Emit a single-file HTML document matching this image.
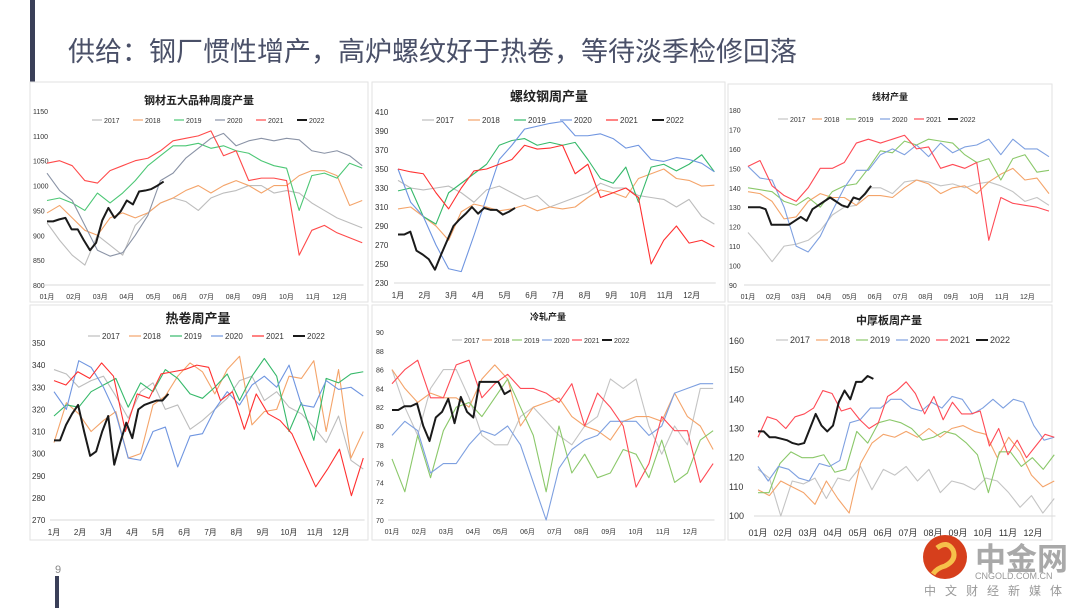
<!DOCTYPE html>
<html><head><meta charset="utf-8">
<style>
html,body{margin:0;padding:0;background:#fff;}
body{width:1080px;height:608px;position:relative;overflow:hidden;font-family:"Liberation Sans","Noto Sans CJK SC",sans-serif;}
svg text{font-family:"Liberation Sans","Noto Sans CJK SC",sans-serif;}
</style></head>
<body>
<svg id="slide" width="1080" height="608" viewBox="0 0 1080 608" xmlns="http://www.w3.org/2000/svg">
  <rect x="30" y="0" width="5" height="84" fill="#3a3f58"/>
  <text x="68" y="61" font-size="27" fill="#4a5068">供给：钢厂惯性增产，高炉螺纹好于热卷，等待淡季检修回落</text>
  <rect x="55" y="576" width="4" height="32" fill="#3a3f58"/>
  <text x="55" y="573" font-size="11" fill="#888">9</text>
  <g id="charts"></g>
  <g>
    <circle cx="945" cy="557" r="22" fill="#d63f1c"/>
    <path d="M937 548 q10 -8 16 2 q4 10 -8 16 q-8 2 -12 8" stroke="#f6c04a" stroke-width="5" fill="none"/>
    <text x="975" y="570" font-size="31" font-weight="bold" fill="#a9a9a9">中金网</text>
    <text x="975" y="579" font-size="9" fill="#999">CNGOLD.COM.CN</text>
    <text x="924" y="595" font-size="12" fill="#999" letter-spacing="9">中文财经新媒体</text>
  </g>
</svg>
<script>
// ---- data: chart 1 钢材五大品种 ----
const c1_2017=[925,890,860,840,900,880,860,920,945,965,975,968,950,975,985,990,1000,1000,985,990,985,965,950,935,925,915];
const c1_2018=[945,960,935,910,900,935,945,935,945,965,975,990,1000,985,1000,1010,1000,985,1000,1000,1020,1030,1030,1020,960,970];
const c1_2019=[970,975,965,950,985,965,985,1010,1040,1060,1080,1080,1085,1075,1080,1070,1065,1050,1040,1035,950,1020,1025,1015,1045,1035];
const c1_2020=[1025,990,970,920,870,858,865,900,940,1010,1025,1055,1075,1095,1105,1080,1090,1095,1090,1095,1092,1070,1065,1070,1060,1040];
const c1_2021=[1045,1050,1040,1010,1005,1030,1040,1050,1055,1070,1090,1095,1100,1110,1060,1070,1010,1015,1015,1010,860,910,920,905,895,885];
const c1_2022=[928,928,932,935,912,912,890,870,885,930,955,935,948,970,962,988,990,993,1000,1008];
const c1_ticks=[800,850,900,950,1000,1050,1100,1150];
// ---- chart 2 螺纹钢 ----
const c2_2017=[338,330,328,330,332,325,315,328,332,325,318,322,310,315,320,325,335,330,330,322,320,318,310,318,300,292];
const c2_2018=[308,310,300,290,275,305,313,310,306,308,312,306,310,308,310,320,328,325,320,340,345,350,340,338,332,333];
const c2_2019=[327,330,300,292,325,335,345,355,375,380,382,375,378,375,378,360,340,335,352,315,352,355,348,355,365,347];
const c2_2020=[350,315,300,270,245,242,280,320,360,375,392,395,398,400,385,385,387,382,372,375,360,358,362,360,356,347];
const c2_2021=[350,347,345,325,308,330,348,350,355,360,375,371,372,375,345,355,320,325,330,320,250,275,290,272,275,268];
const c2_2022=[281,281,284,264,260,255,244,260,275,290,297,303,310,303,309,307,307,302,305,309];
const c2_ticks=[230,250,270,290,310,330,350,370,390,410];
// ---- chart 3 线材 ----
const c3_2017=[117,110,102,110,111,113,118,126,130,131,140,140,137,143,144,143,141,142,140,142,143,141,138,133,135,131];
const c3_2018=[138,137,133,124,125,133,137,135,135,131,136,136,135,140,144,142,137,140,141,137,143,147,150,144,145,137];
const c3_2019=[140,139,138,133,131,135,130,138,141,142,150,159,158,164,162,165,164,163,157,153,155,144,155,157,148,149];
const c3_2020=[151,145,144,130,110,107,115,128,140,149,149,157,160,157,162,156,163,158,161,162,165,157,165,160,160,156];
const c3_2021=[151,154,141,136,133,140,150,150,153,163,165,163,165,167,160,161,150,152,150,153,113,135,132,131,130,128];
const c3_2022=[130,130,130,129,121,121,121,121,123,125,123,129,131,133,135,133,131,130,135,134,137,141];
const c3_ticks=[90,100,110,120,130,140,150,160,170,180];
// ---- chart 4 热卷 ----
const c4_2017=[338,336,330,333,335,326,316,328,332,320,322,311,315,320,325,333,335,324,328,321,318,312,305,317,297,293];
const c4_2018=[305,323,318,310,315,319,298,300,322,326,335,341,337,327,338,344,313,319,320,335,334,342,310,338,298,310];
const c4_2019=[317,322,321,328,331,334,321,332,328,338,334,327,325,330,336,324,335,343,335,310,323,306,334,332,336,337];
const c4_2020=[328,320,342,339,330,318,298,297,310,312,294,308,309,320,328,322,331,335,330,340,322,321,333,329,330,326];
const c4_2021=[333,331,337,334,341,335,310,327,325,336,337,338,340,339,324,328,311,327,318,315,309,297,285,293,302,281,298];
const c4_2022=[306,306,313,318,322,310,299,301,310,317,295,305,314,307,320,322,323,324,324,327];
const c4_ticks=[270,280,290,300,310,320,330,340,350];
// ---- chart 5 冷轧 ----
const c5_2017=[86,82,79,84,86,86,83,79,78,78,81,82,80.5,79,78,80,81,85,84,85,80,77,80,78,84,84];
const c5_2018=[86,84,82.5,83.5,83,83,82,85,86.5,85,80,82,82.5,83,81,80,79.5,78.5,80.5,81,81,80.5,83.5,81,80,77.5];
const c5_2019=[76.5,73,79,74.5,79.5,82,82.5,81,83,85,82,79,73,80,75,77,74.5,75,77.5,77,74.5,78.5,74,75,78.5,79.5];
const c5_2020=[79,80.5,79.5,75,76,76,78,79.5,79,80,78,74,70,75.5,77.5,78.5,79,80.5,80.5,80.5,79,80,83.5,84,84.5,84.5];
const c5_2021=[84.5,86,87,83,83,86.5,87,83,84.5,85.5,84,84,83.5,82.5,84.5,80,83.5,82,80,73.5,76,81,79.5,79.5,74,76];
const c5_2022=[81.7,81.7,82.1,82.1,82.4,80,78.4,80.9,81.5,82.9,80.3,83.1,81.5,80.9,84.7,84.7,84.7,84.7,83.4,83.8];
const c5_ticks=[70,72,74,76,78,80,82,84,86,88,90];
// ---- chart 6 中厚板 ----
const c6_2017=[116,113,100,112,111,113,106,113,112,117,109,116,114,117,112,116,108,112,111,109,113,112,108,103,107,101,106];
const c6_2018=[109,107,112,110,108,104,112,106,101,118,125,128,127,129,127,130,127,130,131,129,128,120,127,122,114,110,112];
const c6_2019=[108,108,118,122,120,120,121,115,116,129,125,132,133,132,130,126,127,129,128,125,121,108,122,122,117,120,116,121];
const c6_2020=[117,112,117,116,113,112,118,117,119,132,133,137,137,140,140,137,136,139,137,141,140,135,137,140,137,140,139,131,126,127];
const c6_2021=[127,134,133,130,134,135,137,143,142,136,137,133,130,132,141,143,146,142,135,141,133,139,135,135,136,124,130,121,126,120,124,128,127];
const c6_2022=[129,129,127,127,126.5,126,125,124.5,125,130,135,131,129,131,139,143,140,146,146,148,147];
const c6_ticks=[100,110,120,130,140,150,160];

const years=["2017","2018","2019","2020","2021","2022"];
const c1_months=["01月","02月","03月","04月","05月","06月","07月","08月","09月","10月","11月","12月"];
const c2_months=["1月","2月","3月","4月","5月","6月","7月","8月","9月","10月","11月","12月"];

const NS="http://www.w3.org/2000/svg";
const root=document.getElementById('charts');
function mk(tag,attrs,parent){const e=document.createElementNS(NS,tag);for(const k in attrs)e.setAttribute(k,attrs[k]);parent.appendChild(e);return e;}

function drawChart(cfg){
  const g=mk('g',{},root);
  
  
  const panel=mk('rect',{x:cfg.box[0],y:cfg.box[1],width:cfg.box[2],height:cfg.box[3],fill:'#fff',stroke:'#e2e2e2','stroke-width':1},g);
  
  
  const t=mk('text',{x:cfg.titleX,y:cfg.titleY,'font-size':cfg.titleSize,'font-weight':'bold','text-anchor':'middle',fill:'#222'},g);
  t.textContent=cfg.title;
  
  
  const ymin=cfg.ticks[0],ymax=cfg.ticks[cfg.ticks.length-1];
  const sy=v=>cfg.yBot-(v-ymin)/(ymax-ymin)*(cfg.yBot-cfg.yTop);
  const sx=m=>cfg.x0+m*cfg.mw;
  cfg.ticks.forEach(v=>{
    const tt=mk('text',{x:cfg.yLabX,y:sy(v)+3,'font-size':cfg.tickSize,fill:'#333'},g);
    tt.textContent=v;
    
    
  });
  const ax=mk('line',{x1:sx(0)-4,x2:sx(11.9),y1:cfg.yBot,y2:cfg.yBot,stroke:'#d9d9d9','stroke-width':1},g);
  
  
  cfg.months.forEach((m,i)=>{
    const tt=mk('text',{x:sx(i),y:cfg.xLabY,'font-size':cfg.tickSize,'text-anchor':'middle',fill:'#333'},g);
    tt.textContent=m;
    
    
  });
  cfg.series.forEach((s,k)=>{
    const d=s.data;let pts;
    if(k===5) pts=d.map((v,i)=>sx(i*12/52)+','+sy(v));
    else pts=d.map((v,i)=>sx(i/(d.length-1)*11.85)+','+sy(v));
    const p=mk('polyline',{points:pts.join(' '),fill:'none',stroke:cfg.colors[k],'stroke-width':k===5?2:1.1,'stroke-linejoin':'round'},g);
    
    
  });
  let lx=cfg.legX;
  years.forEach((y,k)=>{
    const lg=mk('g',{},g);
    
    
    mk('line',{x1:lx,x2:lx+cfg.legLine,y1:cfg.legY-3,y2:cfg.legY-3,stroke:cfg.colors[k],'stroke-width':k===5?2:1.2},lg);
    const tt=mk('text',{x:lx+cfg.legLine+2,y:cfg.legY,'font-size':cfg.legSize,fill:'#333'},lg);
    tt.textContent=y;
    lx+=cfg.legStep;
  });
}
const colA=['#bdbdbd','#f4a46a','#4cc775','#8a93a6','#ff4a4a','#1a1a1a'];
const colB=['#bdbdbd','#f4a46a','#36b96a','#6f95e0','#ff3030','#1a1a1a'];
const colC=['#c4c4c4','#f4a46a','#8bc86a','#7ea0e0','#ff4a55','#1a1a1a'];
drawChart({name:'chart-five-steel-products',box:[30,82,338,220],title:'钢材五大品种周度产量',titleX:199,titleY:104,titleSize:11,
  ticks:c1_ticks,yTop:111,yBot:285,yLabX:33,x0:47,mw:26.6,xLabY:299,months:c1_months,tickSize:7,
  series:[{data:c1_2017},{data:c1_2018},{data:c1_2019},{data:c1_2020},{data:c1_2021},{data:c1_2022}],colors:colA,
  legX:92,legY:123,legLine:10,legStep:41,legSize:7});
drawChart({name:'chart-rebar-weekly',box:[372,82,353,220],title:'螺纹钢周产量',titleX:549,titleY:101,titleSize:13,
  ticks:c2_ticks,yTop:112,yBot:283,yLabX:375,x0:398,mw:26.7,xLabY:298,months:c2_months,tickSize:8,
  series:[{data:c2_2017},{data:c2_2018},{data:c2_2019},{data:c2_2020},{data:c2_2021},{data:c2_2022}],colors:colB,
  legX:422,legY:123,legLine:12,legStep:46,legSize:8});
drawChart({name:'chart-wire-rod',box:[728,84,324,218],title:'线材产量',titleX:890,titleY:100,titleSize:9,
  ticks:c3_ticks,yTop:110,yBot:285,yLabX:729,x0:748,mw:25.4,xLabY:299,months:c1_months,tickSize:7,
  series:[{data:c3_2017},{data:c3_2018},{data:c3_2019},{data:c3_2020},{data:c3_2021},{data:c3_2022}],colors:colC,
  legX:778,legY:122,legLine:10,legStep:34,legSize:7});
drawChart({name:'chart-hot-rolled-coil',box:[30,305,338,235],title:'热卷周产量',titleX:198,titleY:323,titleSize:13,
  ticks:c4_ticks,yTop:343,yBot:520,yLabX:32,x0:54,mw:26.1,xLabY:535,months:c2_months,tickSize:8,
  series:[{data:c4_2017},{data:c4_2018},{data:c4_2019},{data:c4_2020},{data:c4_2021},{data:c4_2022}],colors:colB,
  legX:88,legY:339,legLine:12,legStep:41,legSize:8});
drawChart({name:'chart-cold-rolled',box:[372,305,353,235],title:'冷轧产量',titleX:548,titleY:320,titleSize:9,
  ticks:c5_ticks,yTop:332,yBot:520,yLabX:376,x0:392,mw:27.1,xLabY:534,months:c1_months,tickSize:7,
  series:[{data:c5_2017},{data:c5_2018},{data:c5_2019},{data:c5_2020},{data:c5_2021},{data:c5_2022}],colors:colC,
  legX:452,legY:343,legLine:10,legStep:30,legSize:7});
drawChart({name:'chart-medium-plate',box:[728,305,324,235],title:'中厚板周产量',titleX:889,titleY:324,titleSize:11,
  ticks:c6_ticks,yTop:341,yBot:516,yLabX:729,x0:758,mw:25,xLabY:536,months:c1_months,tickSize:9,
  series:[{data:c6_2017},{data:c6_2018},{data:c6_2019},{data:c6_2020},{data:c6_2021},{data:c6_2022}],colors:colC,
  legX:776,legY:343,legLine:12,legStep:40,legSize:9});
</script>
</body></html>
